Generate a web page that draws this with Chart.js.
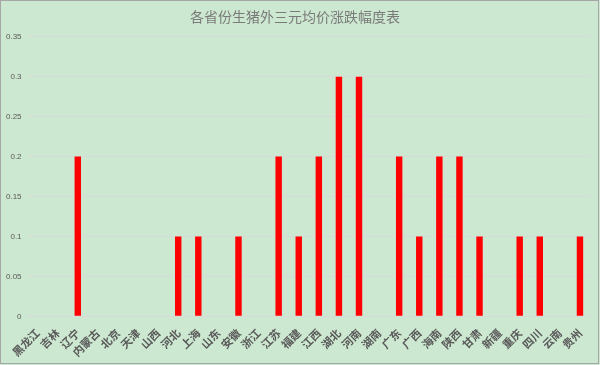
<!DOCTYPE html>
<html>
<head>
<meta charset="utf-8">
<script src="https://cdn.jsdelivr.net/npm/chart.js@4/dist/chart.umd.min.js"></script>
<style>
  body { margin: 0; background: #ffffff; }
  #wrap { width: 600px; height: 365px; }
</style>
</head>
<body>
<div id="wrap"><canvas id="myChart" width="600" height="365"></canvas></div>
<script>
// 省份
var provinces = ['黑龙江', '吉林', '辽宁', '内蒙古', '北京', '天津', '山西', '河北', '上海', '山东',
  '安徽', '浙江', '江苏', '福建', '江西', '湖北', '河南', '湖南', '广东', '广西',
  '海南', '陕西', '甘肃', '新疆', '重庆', '四川', '云南', '贵州'];
// 涨跌幅度
var changes = [0, 0, 0.2, 0, 0, 0, 0, 0.1, 0.1, 0,
  0.1, 0, 0.2, 0.1, 0.2, 0.3, 0.3, 0, 0.2, 0.1,
  0.2, 0.2, 0.1, 0, 0.1, 0.1, 0, 0.1];
var chart_title = '各省份生猪外三元均价涨跌幅度表';

// 背景 + 边框
const bgPlugin = {
  id: 'bg',
  beforeDraw: function (chart) {
    var ctx = chart.ctx;
    ctx.save();
    ctx.fillStyle = '#cde8d1';
    ctx.fillRect(0, 0, chart.width, chart.height);
    ctx.strokeStyle = '#a6a6a6';
    ctx.lineWidth = 1;
    ctx.strokeRect(0.5, 0.5, chart.width - 2, chart.height - 2);
    ctx.restore();
  }
};

const data = {
  labels: provinces,
  datasets: [{
    label: '涨跌幅度',
    backgroundColor: '#ff0000',
    borderWidth: 0,
    data: changes,
    barPercentage: 0.32,
    categoryPercentage: 1
  }]
};

const config = {
  type: 'bar',
  data: data,
  plugins: [bgPlugin],
  options: {
    responsive: false,
    animation: false,
    layout: { padding: { left: 0, right: 10, top: 6, bottom: 4 } },
    plugins: {
      legend: { display: false },
      tooltip: { enabled: false },
      title: {
        display: true,
        text: chart_title,
        color: '#7a7a7a',
        font: { family: '"Noto Sans CJK SC"', size: 14, weight: 'normal' },
        padding: { top: 2, bottom: 12 }
      }
    },
    scales: {
      x: {
        grid: { display: false },
        border: { color: '#d9d9d9' },
        ticks: {
          color: '#595959',
          minRotation: 45,
          maxRotation: 45,
          autoSkip: false,
          padding: 2,
          font: { family: '"Noto Sans CJK SC"', size: 11, weight: 'bold' }
        }
      },
      y: {
        min: 0,
        max: 0.35,
        grid: { color: '#d9d9d9', drawTicks: false },
        border: { display: false },
        ticks: {
          stepSize: 0.05,
          color: '#595959',
          padding: 6,
          font: { family: 'Liberation Sans', size: 8 },
          callback: function (v) { return Math.round(v * 100) / 100; }
        }
      }
    }
  }
};

const myChart = new Chart(document.getElementById('myChart'), config);
</script>
</body>
</html>
